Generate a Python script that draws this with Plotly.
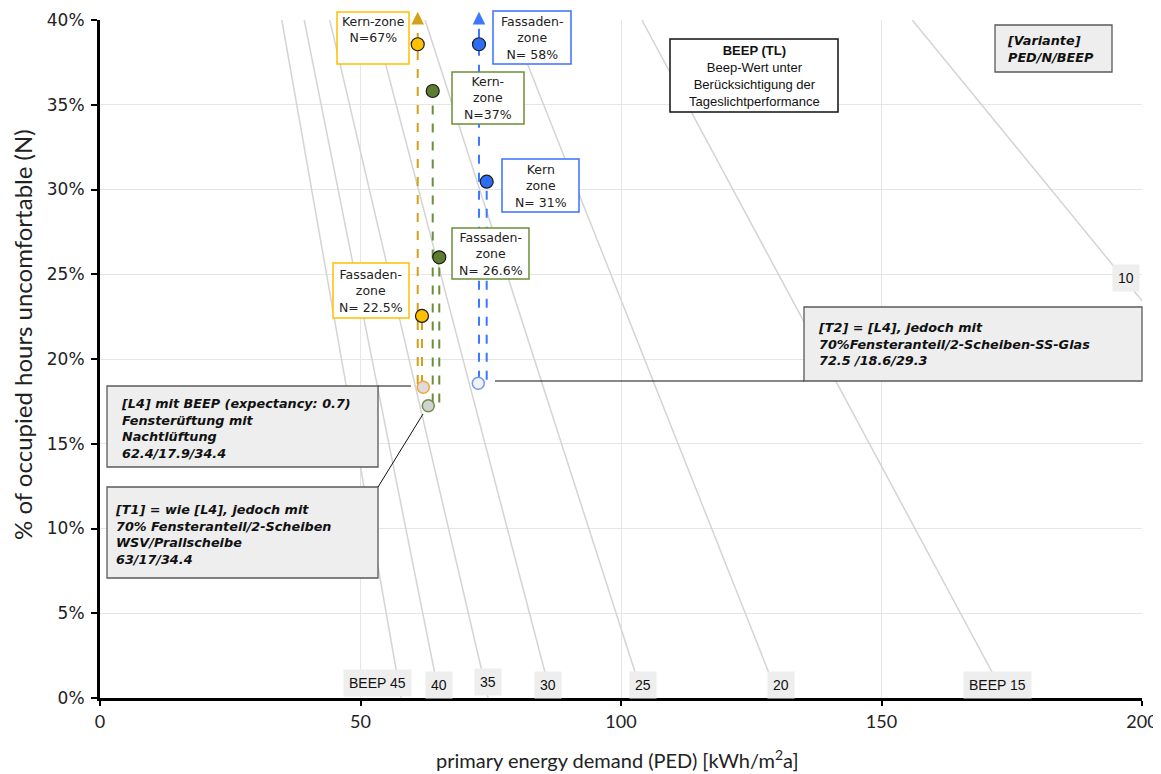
import plotly.graph_objects as go

# ---------------- data ----------------
# BEEP iso-lines: PED where each line crosses N = 40 % and N = 0 %
beep_levels = [45, 40, 35, 30, 25, 20, 15, 10]
beep_ped_at_n40 = [34.9, 39.2, 44.1, 52.6, 62.4, 78.7, 104.0, 155.9]
beep_ped_at_n0 = [57.8, 65.2, 74.5, 86.7, 104.3, 130.3, 173.9, 262.4]
beep_label_text = ["BEEP 45", "40", "35", "30", "25", "20", "BEEP 15", "10"]

# variants (base case + Kern/Fassaden zones)
variants = ["L4", "T1", "T2"]
base_ped = [62.05, 63.01, 72.61]
base_n = [18.33, 17.24, 18.57]
kern_ped = [60.98, 63.86, 74.22]
kern_n = [38.57, 35.81, 30.46]
kern_offchart = [True, False, False]
fassade_ped = [61.80, 65.12, 72.74]
fassade_n = [22.54, 26.0, 38.57]
fassade_offchart = [False, False, True]

y_ticks = [0, 5, 10, 15, 20, 25, 30, 35, 40]
x_ticks = [0, 50, 100, 150, 200]

# ---------------- styles ----------------
fill_colors = ["#ffc000", "#5b7c31", "#2f6cf6"]
dash_colors = ["#d4a017", "#6b8e3a", "#3b78ff"]
open_line = ["#f5a53a", "#6e8f48", "#6f9af5"]
open_fill = ["#dcdcdc", "#d2d2d2", "#f2f2f2"]
box_colors = ["#ffc000", "#6b8e3a", "#3d6fff"]

# page body has an 8px margin -> figure is placed at (8, 8)
OFF = 8
W, H = 1161, 774
PL, PR, PT, PB = 100, 1142, 20, 698   # plot area in window pixels


def px_x(px):
    return (px - PL) / (PR - PL)


def px_y(py):
    return (PB - py) / (PB - PT)


fig = go.Figure()
annotations = []
shapes = []

# iso-lines
for lvl, p40, p0 in zip(beep_levels, beep_ped_at_n40, beep_ped_at_n0):
    fig.add_trace(go.Scatter(x=[p40, p0], y=[40, 0], mode="lines",
                             line=dict(color="#d4d4d4", width=1.5),
                             hoverinfo="skip", showlegend=False))

# dashed drop lines (+ arrowheads for values beyond the chart)
for i in range(3):
    for ped, n, off in [(kern_ped[i], kern_n[i], kern_offchart[i]),
                        (fassade_ped[i], fassade_n[i], fassade_offchart[i])]:
        top = 40 if off else n
        fig.add_trace(go.Scatter(x=[ped, ped], y=[base_n[i] + 0.2, top], mode="lines",
                                 line=dict(color=dash_colors[i], width=2, dash="dash"),
                                 hoverinfo="skip", showlegend=False))
        if off:
            annotations.append(dict(x=ped, y=40.48, xref="x", yref="y",
                                    ax=ped, ay=39.8, axref="x", ayref="y",
                                    showarrow=True, arrowhead=2, arrowsize=1.4,
                                    arrowwidth=1.8, arrowcolor=dash_colors[i], text=""))

# base (open) markers
for i in range(3):
    fig.add_trace(go.Scatter(x=[base_ped[i]], y=[base_n[i]], mode="markers",
                             marker=dict(size=12, color=open_fill[i],
                                         line=dict(color=open_line[i], width=1.5)),
                             hoverinfo="skip", showlegend=False))
# zone markers
for i in range(3):
    fig.add_trace(go.Scatter(x=[kern_ped[i], fassade_ped[i]], y=[kern_n[i], fassade_n[i]],
                             mode="markers",
                             marker=dict(size=13, color=fill_colors[i],
                                         line=dict(color="#1a1a1a", width=1.2)),
                             hoverinfo="skip", showlegend=False))

# iso-line labels
label_pos = [(377.5, 683), (439, 684.5), (488, 682), (548, 684.5), (643, 684.5),
             (781, 684.5), (997, 684.5), (1125.5, 278)]
for txt, (lx, ly) in zip(beep_label_text, label_pos):
    annotations.append(dict(xref="paper", yref="paper", x=px_x(lx), y=px_y(ly),
                            xanchor="center", yanchor="middle", text=txt, showarrow=False,
                            bgcolor="#eeeeee", borderpad=5,
                            font=dict(family="Liberation Sans, Arial", size=14, color="#111")))


def rect(left, top, right, bottom, border, fill, bw):
    shapes.append(dict(type="rect", xref="paper", yref="paper",
                       x0=px_x(left), x1=px_x(right), y0=px_y(bottom), y1=px_y(top),
                       line=dict(color=border, width=bw), fillcolor=fill, layer="above"))


def text(x, y, txt, font, xanchor="center", align="center"):
    annotations.append(dict(xref="paper", yref="paper", x=px_x(x), y=px_y(y),
                            xanchor=xanchor, yanchor="middle", text=txt, showarrow=False,
                            align=align, font=font))


zf = dict(family="DejaVu Sans, Verdana", size=12.5, color="#222")
zone_boxes = [
    (337, 12, 409, 64, box_colors[0], "Kern-zone<br>N=67%", 29),
    (493, 11, 571, 64, box_colors[2], "Fassaden-<br>zone<br>N= 58%", 38),
    (452, 72, 524, 124, box_colors[1], "Kern-<br>zone<br>N=37%", 98),
    (502, 159, 579, 212, box_colors[2], "Kern<br>zone<br>N= 31%", 185.5),
    (452, 228, 529, 279, box_colors[1], "Fassaden-<br>zone<br>N= 26.6%", 254),
    (333, 263, 409, 318, box_colors[0], "Fassaden-<br>zone<br>N= 22.5%", 291),
]
for l, t, r, b, c, txt, cy in zone_boxes:
    rect(l, t, r, b, c, "white", 1.5)
    text((l + r) / 2, cy, txt, zf)

rect(670, 39, 838, 112, "#111", "white", 1.5)
text(754, 76, "<b>BEEP (TL)</b><br>Beep-Wert unter<br>Berücksichtigung der<br>Tageslichtperformance",
     dict(family="Liberation Sans, Arial", size=13, color="#111"))

gf = dict(family="DejaVu Sans, Verdana", size=12.8, color="#111")
gray_boxes = [
    (995, 25, 1112, 72, 1005, 49.5, "<b><i>[Variante]<br>PED/N/BEEP</i></b>"),
    (804, 307, 1142, 381, 816, 344,
     "<b><i>[T2] = [L4], jedoch mit<br>70%Fensteranteil/2-Scheiben-SS-Glas<br>72.5 /18.6/29.3</i></b>"),
    (107, 386, 378, 467, 119, 428,
     "<b><i>[L4] mit BEEP (expectancy: 0.7)<br>Fensterüftung mit<br>Nachtlüftung<br>62.4/17.9/34.4</i></b>"),
    (107, 487, 378, 578, 113, 534.5,
     "<b><i>[T1] = wie [L4], jedoch mit<br>70% Fensteranteil/2-Scheiben<br>WSV/Prallscheibe<br>63/17/34.4</i></b>"),
]
for l, t, r, b, tx, ty, txt in gray_boxes:
    rect(l, t, r, b, "#5a5a5a", "#eeeeee", 1.3)
    text(tx, ty, txt, gf, xanchor="left", align="left")

# pointer lines from the description boxes
for x0, y0, x1, y1 in [(378, 386, 411, 386), (378, 487, 423, 414), (495, 381, 804, 381)]:
    shapes.append(dict(type="line", xref="paper", yref="paper", x0=px_x(x0), y0=px_y(y0),
                       x1=px_x(x1), y1=px_y(y1), line=dict(color="#111", width=1), layer="above"))

# axis titles
annotations.append(dict(xref="paper", yref="paper", x=px_x(23), y=px_y(335), textangle=-90,
                        text="% of occupied hours uncomfortable (N)", showarrow=False,
                        xanchor="center", yanchor="middle",
                        font=dict(family="Lato, Open Sans", size=24, color="#222")))
annotations.append(dict(xref="paper", yref="paper", x=px_x(617), y=px_y(759),
                        text="primary energy demand (PED) [kWh/m<sup>2</sup>a]", showarrow=False,
                        xanchor="center", yanchor="middle",
                        font=dict(family="Lato, Open Sans", size=20, color="#222")))

fig.update_layout(
    width=W - OFF, height=H - OFF,
    margin=dict(l=PL - OFF, r=W - PR, t=PT - OFF, b=H - PB, pad=0, autoexpand=False),
    paper_bgcolor="white", plot_bgcolor="white",
    showlegend=False,
    annotations=annotations,
    shapes=shapes,
    xaxis=dict(range=[0, 200], tickvals=x_ticks, showgrid=True, gridcolor="#e6e6e6",
               gridwidth=1, zeroline=False, showline=True, linewidth=3, linecolor="black",
               ticks="outside", ticklen=5, tickwidth=2, tickcolor="black", automargin=False,
               tickfont=dict(family="Lato, Open Sans", size=18, color="#222")),
    yaxis=dict(range=[0, 40], tickmode="array", tickvals=y_ticks,
               ticktext=[f"{v}%" for v in y_ticks], automargin=False,
               showgrid=True, gridcolor="#e6e6e6", gridwidth=1, zeroline=False, showline=True,
               linewidth=3, linecolor="black", ticks="outside", ticklen=6, tickwidth=2,
               tickcolor="black", ticklabelstandoff=3,
               tickfont=dict(family="DejaVu Sans, Verdana", size=17, color="#222")),
)

fig.write_html("out.html")
